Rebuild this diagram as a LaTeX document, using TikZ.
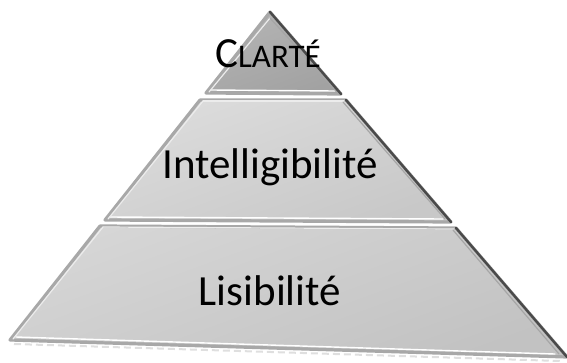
\documentclass[tikz,border=0pt]{standalone}
\usepackage{fontspec}
\setmainfont{Carlito}
\usetikzlibrary{calc}
\definecolor{topA}{HTML}{B4B4B4}
\definecolor{topB}{HTML}{A2A2A2}
\definecolor{midA}{HTML}{DCDCDC}
\definecolor{midB}{HTML}{C8C8C8}
\definecolor{lowA}{HTML}{D6D6D6}
\definecolor{lowB}{HTML}{C2C2C2}
\definecolor{bevel}{HTML}{A8A8A8}
\definecolor{darkedge}{HTML}{4A4A4A}
\tikzset{
  bevelbase/.style={draw=bevel, line width=3.2pt, line join=round},
  hilite/.style={draw=white, line width=1.4pt, line cap=round},
  softlite/.style={draw=white!85!gray, line width=1.2pt, line cap=round},
  darkline/.style={draw=darkedge, line width=2.4pt, line cap=round},
  midline/.style={draw=gray!70, line width=1.2pt, line cap=round},
  label/.style={anchor=base, inner sep=0pt, text=black},
}
\begin{document}
\begin{tikzpicture}[x=1pt,y=-1pt]
\useasboundingbox (0,0) rectangle (567,362);
% corners
\coordinate (A) at (270,12);
\coordinate (T1l) at (206,93);  \coordinate (T1r) at (341,94);
\coordinate (M1l) at (200,100); \coordinate (M1r) at (346,100);
\coordinate (M2l) at (105,220); \coordinate (M2r) at (451,222);
\coordinate (B1l) at (100,226); \coordinate (B1r) at (456,228);
\coordinate (B2l) at (10,340);  \coordinate (B2r) at (567,357);
% reflection under the base
\draw[gray!25, line width=2pt, dash pattern=on 7pt off 4pt] (14,344) -- (560,361);
% bottom tier
\shade[top color=lowA, bottom color=lowB, shading angle=20] (B1l) -- (B1r) -- (B2r) -- (B2l) -- cycle;
\draw[bevelbase] (B1l) -- (B1r) -- (B2r) -- (B2l) -- cycle;
\draw[hilite] ($(B2l)+(6,-3)$) -- ($(B2r)+(-12,-3)$);
\draw[softlite] ($(B2l)+(3,-1)$) -- ($(B1l)+(3,1)$);
\draw[softlite] ($(B1l)+(3,1)$) -- ($(B1r)+(-2,1)$);
\draw[midline] ($(B1r)+(-3,2)$) -- ($(B2r)+(-8,-3)$);
\draw[darkline] (B1r) -- (B2r);
% middle tier
\shade[top color=midA, bottom color=midB, shading angle=20] (M1l) -- (M1r) -- (M2r) -- (M2l) -- cycle;
\draw[bevelbase] (M1l) -- (M1r) -- (M2r) -- (M2l) -- cycle;
\draw[hilite] ($(M2l)+(5,-3)$) -- ($(M2r)+(-8,-3)$);
\draw[softlite] ($(M2l)+(3,-1)$) -- ($(M1l)+(3,1)$);
\draw[softlite] ($(M1l)+(3,1)$) -- ($(M1r)+(-2,1)$);
\draw[midline] ($(M1r)+(-3,2)$) -- ($(M2r)+(-6,-3)$);
\draw[darkline] (M1r) -- (M2r);
% top tier
\shade[top color=topA, bottom color=topB, shading angle=20] (A) -- (T1r) -- (T1l) -- cycle;
\draw[bevelbase] (A) -- (T1r) -- (T1l) -- cycle;
\draw[hilite] ($(T1l)+(5,-3)$) -- ($(T1r)+(-6,-3)$);
\draw[softlite] ($(T1l)+(3,-1)$) -- ($(A)+(0,6)$);
\draw[midline] ($(A)+(0,6)$) -- ($(T1r)+(-5,-3)$);
\draw[darkline] (A) -- (T1r);
% labels
\node[label, font=\fontsize{43}{43}\selectfont] (lowtxt) at (270,305) {Lisibilité};
\node[label, font=\fontsize{43}{43}\selectfont] (midtxt) at (270,178) {Intelligibilité};
\node[label] (toptxt) at (268,67) {\fontsize{43}{43}\selectfont C\fontsize{33}{33}\selectfont LARTÉ};
\end{tikzpicture}
\end{document}
